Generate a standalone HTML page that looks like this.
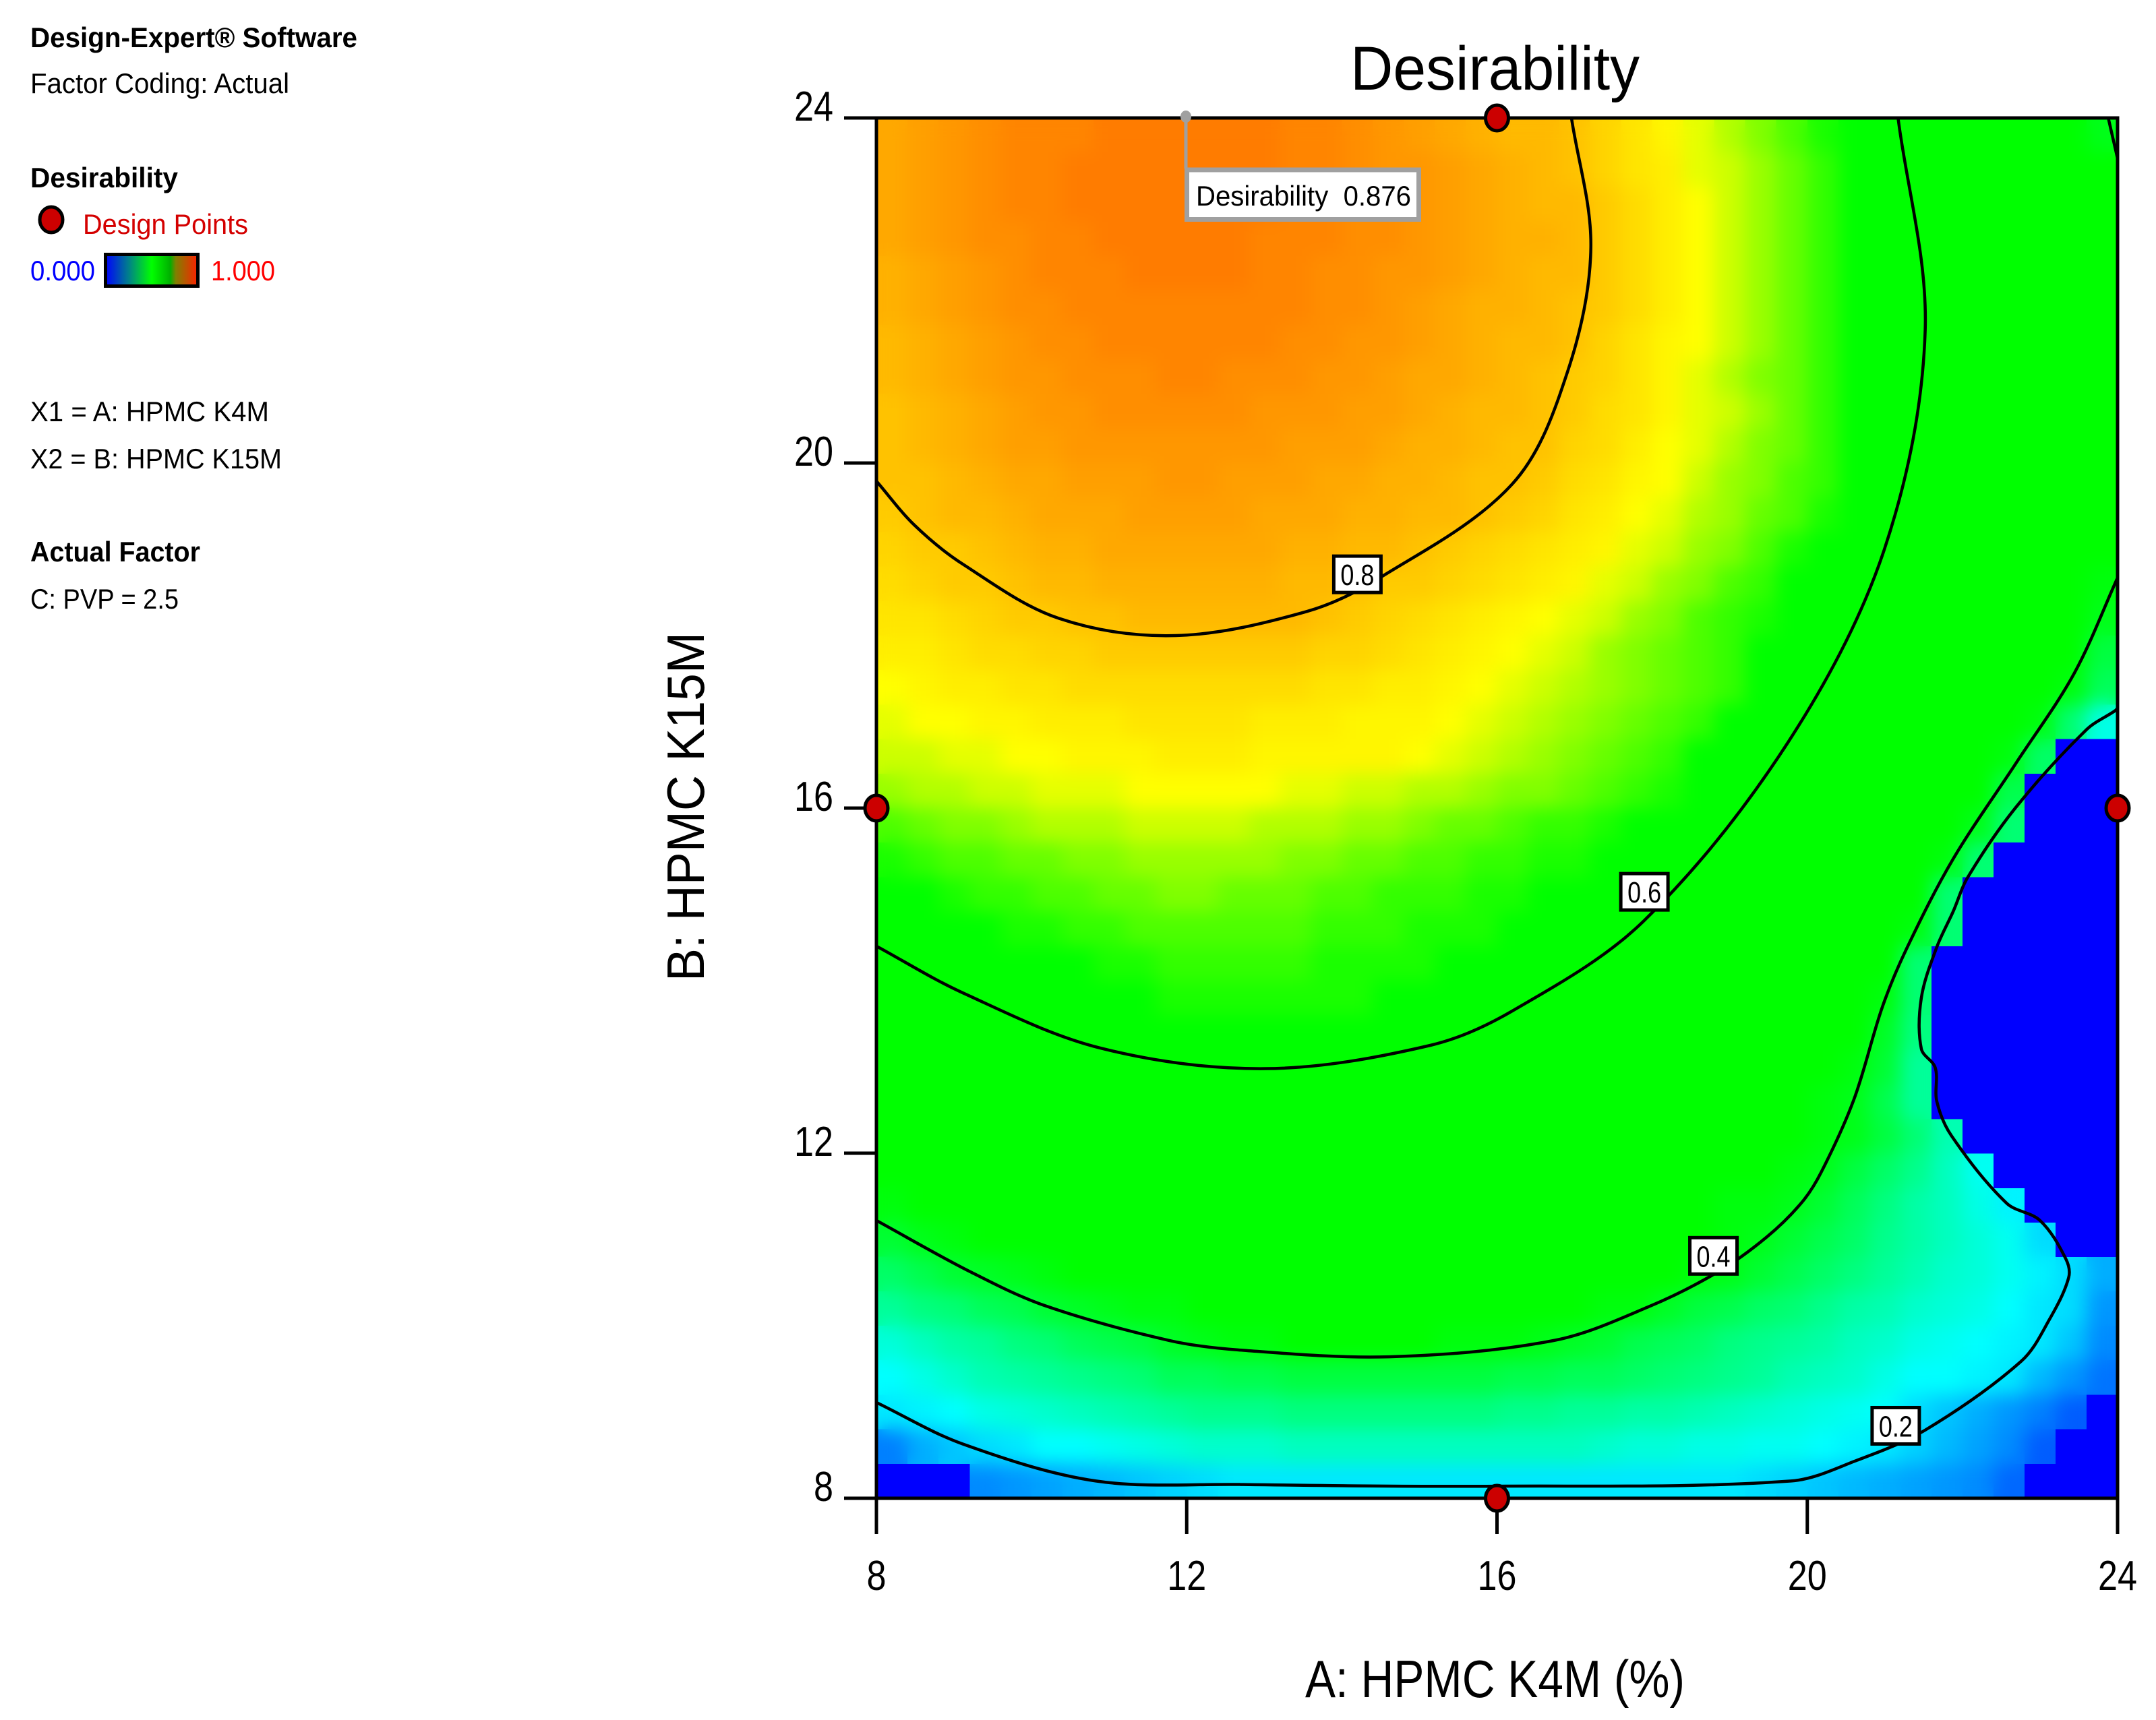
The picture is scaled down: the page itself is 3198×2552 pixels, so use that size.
<!DOCTYPE html>
<html lang="en">
<head>
<meta charset="utf-8">
<title>Desirability contour plot</title>
<style>
html,body{margin:0;padding:0;background:#fff;}
svg{display:block;}
text{font-family:"Liberation Sans",sans-serif;fill:#000;}
</style>
</head>
<body>
<svg id="chart" xmlns="http://www.w3.org/2000/svg" width="3198" height="2552" viewBox="0 0 3198 2552">
  <defs>
    <linearGradient id="legendGradient" x1="0" y1="0" x2="1" y2="0">
      <stop offset="0" stop-color="#0000ff"/>
      <stop offset="0.25" stop-color="#00808a"/>
      <stop offset="0.5" stop-color="#00ff00"/>
      <stop offset="0.7" stop-color="#00b000"/>
      <stop offset="0.76" stop-color="#808000"/>
      <stop offset="1" stop-color="#ff2000"/>
    </linearGradient>
    <clipPath id="plotClip"><rect x="1300" y="175" width="1841" height="2048"/></clipPath>
    <filter id="smooth" filterUnits="userSpaceOnUse" x="1200" y="100" width="2050" height="2250" color-interpolation-filters="sRGB">
      <feGaussianBlur stdDeviation="14"/>
    </filter>
  </defs>

  <g>
    <text x="45" y="70" font-size="42" font-weight="bold" textLength="485" lengthAdjust="spacingAndGlyphs">Design-Expert® Software</text>
    <text x="45" y="138" font-size="42" textLength="384" lengthAdjust="spacingAndGlyphs">Factor Coding: Actual</text>
    <text x="45" y="278" font-size="42" font-weight="bold" textLength="219" lengthAdjust="spacingAndGlyphs">Desirability</text>
    <ellipse cx="76" cy="326" rx="17" ry="19" fill="#cc0000" stroke="#000" stroke-width="5"/>
    <text x="123" y="347" font-size="42" style="fill:#d40000" textLength="245" lengthAdjust="spacingAndGlyphs">Design Points</text>
    <text x="45" y="416" font-size="42" style="fill:#0000ff" textLength="96" lengthAdjust="spacingAndGlyphs">0.000</text>
    <rect x="156.5" y="377.5" width="137" height="47" fill="url(#legendGradient)" stroke="#000" stroke-width="5"/>
    <text x="313" y="416" font-size="42" style="fill:#ff0000" textLength="95" lengthAdjust="spacingAndGlyphs">1.000</text>
    <text x="45" y="625" font-size="42" textLength="354" lengthAdjust="spacingAndGlyphs">X1 = A: HPMC K4M</text>
    <text x="45" y="695" font-size="42" textLength="373" lengthAdjust="spacingAndGlyphs">X2 = B: HPMC K15M</text>
    <text x="45" y="833" font-size="42" font-weight="bold" textLength="252" lengthAdjust="spacingAndGlyphs">Actual Factor</text>
    <text x="45" y="903" font-size="42" textLength="220" lengthAdjust="spacingAndGlyphs">C: PVP = 2.5</text>
  </g>

  <text x="2003" y="133" font-size="92" textLength="429" lengthAdjust="spacingAndGlyphs">Desirability</text>
  <text x="1936" y="2518" font-size="78" textLength="563" lengthAdjust="spacingAndGlyphs">A: HPMC K4M (%)</text>
  <text transform="translate(1044,1456) rotate(-90)" x="0" y="0" font-size="78" textLength="518" lengthAdjust="spacingAndGlyphs">B: HPMC K15M</text>

  <g id="cells" shape-rendering="crispEdges"></g>
  <g clip-path="url(#plotClip)">
    <use href="#cells" filter="url(#smooth)"/>
  </g>
  <g id="zeroCells" shape-rendering="crispEdges"></g>
  <g id="contours" clip-path="url(#plotClip)"></g>
  <g id="axes"></g>
  <g id="contourLabels"></g>
  <g id="points"></g>

  <g>
    <line x1="1759" y1="175" x2="1759" y2="250" stroke="#a0a0a0" stroke-width="5"/>
    <ellipse cx="1759" cy="173" rx="8" ry="9" fill="#a0a0a0"/>
    <rect x="1760.5" y="252" width="344" height="73.5" fill="#fff" stroke="#a0a0a0" stroke-width="7"/>
    <text x="1774" y="305" font-size="42" textLength="319" lengthAdjust="spacingAndGlyphs" xml:space="preserve">Desirability  0.876</text>
  </g>
</svg>

<script>
// Axis categories and tick labels
const xTickValues = [8, 12, 16, 20, 24];
const yTickValues = [8, 12, 16, 20, 24];

// Design points: factor A and factor B
const designA = [16, 8, 24, 16];
const designB = [24, 16, 16, 8];

// Desirability (percent), top row first, left to right
const desirabilityRows = [
[83,84,85,86,87,87,87,88,88,88,88,88,88,87,87,86,85,84,83,82,81,81,80,78,76,74,72,70,68,66,64,63,61,58,56,53,50,47,44,40],
[83,84,85,86,87,87,88,88,88,88,88,88,88,87,87,86,85,85,84,83,82,81,80,78,76,75,72,71,69,67,65,63,62,60,57,54,51,48,45,42],
[83,84,85,86,87,87,88,88,88,88,88,88,88,87,87,86,86,85,84,83,82,81,81,79,77,75,73,71,69,67,65,63,62,60,57,55,52,50,47,44],
[83,84,85,86,86,87,87,88,88,88,88,88,87,87,87,86,86,85,84,83,82,82,81,79,77,75,73,71,69,67,65,63,62,60,58,56,53,51,48,45],
[82,83,84,85,86,87,87,87,88,88,88,88,87,87,86,86,85,85,84,83,82,81,81,79,77,75,73,71,69,67,65,63,62,61,58,56,54,51,49,46],
[82,83,84,85,86,86,87,87,87,87,87,87,87,87,86,86,85,84,83,82,82,81,80,79,77,75,73,71,69,67,65,63,62,61,58,56,54,52,49,47],
[81,82,83,84,85,86,86,87,87,87,87,87,87,86,86,85,85,84,83,82,81,81,80,78,76,74,73,71,69,67,65,63,62,61,58,56,54,52,50,48],
[81,82,83,84,85,85,86,86,86,87,87,86,86,86,85,85,84,83,83,82,81,80,79,78,76,74,72,70,68,67,65,63,62,60,58,56,54,52,50,48],
[80,81,82,83,84,85,85,86,86,86,86,86,85,85,85,84,84,83,82,81,81,80,79,77,76,74,72,71,69,67,65,63,62,60,57,55,53,51,49,48],
[80,81,82,83,84,84,85,85,85,85,85,85,85,84,84,84,83,82,82,81,80,80,78,77,75,73,72,70,68,67,65,63,61,59,57,55,53,51,49,47],
[80,80,81,82,83,83,84,84,84,85,85,84,84,84,83,83,82,82,81,80,80,79,77,76,74,73,71,69,68,66,65,63,61,58,56,54,52,51,49,46],
[79,80,81,81,82,83,83,83,84,84,84,84,83,83,83,82,82,81,81,80,79,78,76,75,73,72,70,69,67,66,64,62,60,58,56,54,52,50,47,44],
[78,79,79,80,81,82,82,83,83,83,83,83,83,82,82,81,81,80,79,78,77,76,75,74,72,71,69,68,66,64,63,61,60,57,55,53,51,49,46,42],
[77,78,79,79,80,81,81,82,82,82,82,82,82,81,81,80,79,79,78,77,76,75,74,72,71,69,68,66,65,63,62,60,59,56,54,52,50,48,45,41],
[76,76,77,78,79,79,80,80,81,81,81,81,81,81,80,79,78,77,76,75,74,73,72,71,69,68,66,65,64,63,60,59,57,55,53,51,49,46,43,40],
[75,75,76,77,77,78,78,79,79,79,79,79,79,79,78,78,77,76,75,74,73,72,71,69,68,67,66,65,63,62,60,57,55,53,51,49,47,45,43,37],
[73,74,75,75,76,76,77,77,77,77,77,77,77,77,76,76,75,75,74,73,72,71,70,69,68,67,66,65,63,60,58,56,54,52,50,48,46,44,41,35],
[72,73,73,74,74,75,75,75,76,76,76,76,75,75,75,74,74,74,73,72,71,70,69,68,67,66,65,63,61,59,56,54,52,50,48,46,44,41,33,24],
[71,71,72,72,73,73,74,74,74,75,75,75,74,74,74,74,74,73,72,71,70,69,68,67,66,65,63,62,60,59,57,55,53,51,49,47,41,34,0,0],
[69,70,70,71,71,72,72,72,73,73,73,73,73,72,72,71,71,70,70,69,68,68,67,66,65,64,62,60,58,56,54,52,51,49,46,43,36,0,0,0],
[66,67,68,68,69,70,70,70,71,71,71,71,70,70,70,69,69,68,67,67,66,65,65,64,63,62,61,60,57,54,53,51,49,47,44,40,33,0,0,0],
[64,65,66,66,67,67,68,68,69,69,69,69,69,68,68,67,67,66,66,65,65,64,64,63,61,60,58,56,54,52,51,49,47,45,41,33,0,0,0,0],
[62,63,64,65,65,66,66,67,67,68,68,67,67,67,66,66,65,65,65,64,64,63,63,60,59,57,55,53,52,50,49,47,45,43,33,0,0,0,0,0],
[60,61,62,63,64,64,65,65,66,66,66,66,66,66,65,65,65,64,64,64,63,62,61,60,60,58,56,54,52,50,49,47,45,41,33,0,0,0,0,0],
[60,60,61,61,62,62,63,64,64,65,65,65,65,65,64,64,64,64,63,63,62,61,60,59,58,56,54,52,51,49,47,45,42,33,0,0,0,0,0,0],
[58,58,59,59,60,60,61,62,63,64,64,64,64,64,64,64,63,62,61,60,60,59,58,57,56,54,52,51,49,47,46,44,41,33,0,0,0,0,0,0],
[55,56,57,57,58,59,59,60,60,60,61,61,61,61,61,60,60,60,60,59,58,57,56,55,54,52,50,49,47,46,44,42,39,32,0,0,0,0,0,0],
[53,54,54,55,56,56,57,57,58,59,60,60,60,60,60,59,58,58,57,56,55,54,53,52,51,50,48,47,45,44,43,41,38,30,0,0,0,0,0,0],
[51,52,52,53,53,54,55,55,56,56,57,57,58,58,57,57,56,55,55,54,53,52,51,50,49,48,46,45,44,43,41,40,36,30,0,0,0,0,0,0],
[48,49,50,51,51,52,52,53,53,54,54,55,55,55,55,54,54,53,52,51,50,50,49,48,47,46,45,44,43,42,41,40,37,33,28,0,0,0,0,0],
[47,47,48,48,49,49,50,50,51,51,52,52,52,52,52,51,51,50,50,49,48,48,47,46,45,44,43,43,42,41,40,37,34,31,27,23,0,0,0,0],
[41,42,43,44,45,46,47,48,48,49,49,49,49,49,49,49,48,48,47,46,46,45,44,44,43,43,42,41,41,40,38,35,32,29,27,24,21,0,0,0],
[38,40,41,42,42,43,44,44,45,45,46,46,46,47,46,46,46,45,45,44,44,43,43,43,42,42,42,41,40,38,36,34,31,29,27,25,23,19,0,0],
[34,36,38,39,40,41,42,42,43,43,43,43,44,44,44,44,43,43,42,42,42,42,42,42,42,42,41,40,38,36,34,32,30,28,26,25,23,21,19,15],
[30,32,33,35,36,38,39,40,41,41,42,42,43,43,43,43,43,43,43,43,43,42,42,41,41,39,37,36,34,33,31,29,28,26,25,24,22,20,19,13],
[25,27,29,30,32,33,35,36,37,39,40,41,41,42,42,42,42,42,41,41,41,40,39,38,36,35,34,32,31,30,29,27,26,24,23,22,21,20,17,12],
[22,24,26,28,29,30,31,32,33,35,35,36,36,37,37,37,37,37,37,37,36,36,35,35,34,33,32,31,30,28,27,26,24,22,22,21,20,16,13,10],
[20,21,22,24,25,26,27,28,29,30,31,31,31,32,32,32,32,32,32,32,31,31,30,30,29,29,28,27,26,25,24,23,22,19,17,15,13,11,8,0],
[11,15,17,19,20,22,22,23,24,25,26,26,26,27,27,27,27,27,27,27,27,27,27,26,25,25,24,24,23,23,22,21,20,18,16,14,12,8,0,0],
[0,0,0,12,13,14,15,16,17,18,19,20,20,20,20,20,20,20,20,20,20,20,20,20,20,20,20,20,19,18,17,16,15,14,13,12,9,0,0,0]
];

// Contours: A values and B values per level
const contour08A = [8.00,8.49,9.11,10.35,11.86,13.55,14.49,16.20,16.91,17.21,16.96];
const contour08B = [19.79,19.28,18.83,18.20,18.00,18.28,18.67,19.76,21.06,22.50,24.00];
const contour06A = [8.00,9.11,10.88,13.01,15.14,16.20,17.89,19.75,20.99,21.52,21.17];
const contour06B = [14.40,13.86,13.22,12.98,13.25,13.65,14.69,16.76,18.99,21.54,24.00];
const contour04A = [8.00,9.20,10.18,11.77,12.66,14.61,16.74,17.98,18.86,19.48,19.93,20.18,20.60,20.97,21.28,21.88,22.69,23.44,24.00];
const contour04B = [11.22,10.63,10.23,9.83,9.72,9.64,9.83,10.23,10.63,11.03,11.43,11.78,12.62,13.70,14.37,15.41,16.52,17.56,18.67];
const contour04cornerA = [23.88,24.00];
const contour04cornerB = [24.00,23.53];
const contour02A = [8.00,9.11,10.83,12.66,15.99,19.79,20.64,21.52,22.76,23.12,23.37,23.33,23.00,22.57,21.86,21.67,21.65,21.47,21.47,21.67,21.88,22.07,22.69,23.60,23.97,24.00];
const contour02B = [9.11,8.63,8.20,8.16,8.14,8.20,8.44,8.79,9.59,10.07,10.56,10.78,11.22,11.42,12.20,12.60,12.99,13.21,13.80,14.39,14.80,15.20,16.01,16.91,17.13,17.16];

// Contour labels: text and the data location of each label
const labelTexts = ["0.8", "0.6", "0.4", "0.2"];
const labelA = [14.20, 17.90, 18.79, 21.14];
const labelB = [18.71, 15.03, 10.81, 8.84];

// Axis functions
const xScale = a => 1300 + (a - 8) * 1841 / 16;
const yScale = b => 175 + (24 - b) * 2048 / 16;

const SVGNS = "http://www.w3.org/2000/svg";
function make(tag, attrs, parent) {
  const el = document.createElementNS(SVGNS, tag);
  for (const k in attrs) el.setAttribute(k, attrs[k]);
  parent.appendChild(el);
  return el;
}

function colorFor(pct) {
  const v = pct / 100;
  const stops = [
    [0, 0, 0, 255], [0.22, 0, 255, 255], [0.42, 0, 255, 0], [0.63, 0, 255, 0],
    [0.73, 255, 255, 0], [0.876, 255, 128, 0], [1, 255, 0, 0]
  ];
  for (let i = 1; i < stops.length; i++) {
    if (v <= stops[i][0]) {
      const a = stops[i - 1], b = stops[i];
      const t = (v - a[0]) / (b[0] - a[0]);
      return "rgb(" + [1, 2, 3].map(c => Math.round(a[c] + (b[c] - a[c]) * t)).join(",") + ")";
    }
  }
  return "rgb(255,0,0)";
}

// Heatmap cells: non-zero cells are smoothed, zero cells stay crisp on top
const cellsGroup = document.getElementById("cells");
const zeroGroup = document.getElementById("zeroCells");
const nRows = desirabilityRows.length;
desirabilityRows.forEach((row, r) => {
  const nCols = row.length;
  row.forEach((val, c) => {
    const a0 = 8 + c * 16 / nCols, a1 = 8 + (c + 1) * 16 / nCols;
    const b0 = 24 - r * 16 / nRows, b1 = 24 - (r + 1) * 16 / nRows;
    const cell = make("rect", {
      x: xScale(a0), y: yScale(b0),
      width: xScale(a1) - xScale(a0) + 0.6,
      height: yScale(b1) - yScale(b0) + 0.6,
      fill: colorFor(val)
    }, val > 0 ? cellsGroup : zeroGroup);
    
    
  });
});

// Contour lines
function smoothPath(xs, ys) {
  const pts = xs.map((a, i) => [xScale(a), yScale(ys[i])]);
  const unit = (p, q) => {
    const dx = q[0] - p[0], dy = q[1] - p[1], n = Math.hypot(dx, dy) || 1;
    return [dx / n, dy / n];
  };
  let d = "M" + pts[0][0] + " " + pts[0][1];
  for (let i = 0; i < pts.length - 1; i++) {
    const p0 = pts[Math.max(i - 1, 0)], p1 = pts[i], p2 = pts[i + 1], p3 = pts[Math.min(i + 2, pts.length - 1)];
    const len = Math.hypot(p2[0] - p1[0], p2[1] - p1[1]) / 3;
    const t1 = unit(p0, p2), t2 = unit(p1, p3);
    d += " C" + (p1[0] + t1[0] * len) + " " + (p1[1] + t1[1] * len) + " " +
         (p2[0] - t2[0] * len) + " " + (p2[1] - t2[1] * len) + " " + p2[0] + " " + p2[1];
  }
  return d;
}
const contourGroup = document.getElementById("contours");
[[contour08A, contour08B], [contour06A, contour06B], [contour04A, contour04B],
 [contour04cornerA, contour04cornerB], [contour02A, contour02B]].forEach(pair => {
  const line = make("path", { d: smoothPath(pair[0], pair[1]), fill: "none", stroke: "#000", "stroke-width": 4.5 }, contourGroup);
  
  
});

// Axes
const axesGroup = document.getElementById("axes");
const frame = make("rect", {
  x: xScale(8), y: yScale(24), width: xScale(24) - xScale(8), height: yScale(8) - yScale(24),
  fill: "none", stroke: "#000", "stroke-width": 5
}, axesGroup);



xTickValues.forEach(v => {
  const x = xScale(v);
  const tick = make("line", { x1: x, y1: yScale(8), x2: x, y2: yScale(8) + 53, stroke: "#000", "stroke-width": 5 }, axesGroup);
  
  
  const label = make("text", {
    x: x, y: yScale(8) + 136, "font-size": 62, "text-anchor": "middle",
    textLength: 29 * String(v).length, lengthAdjust: "spacingAndGlyphs"
  }, axesGroup);
  label.textContent = v;
  
  
});
yTickValues.forEach(v => {
  const y = yScale(v);
  const tick = make("line", { x1: xScale(8) - 48, y1: y, x2: xScale(8), y2: y, stroke: "#000", "stroke-width": 5 }, axesGroup);
  
  
  const label = make("text", {
    x: xScale(8) - 64, y: y + 4, "font-size": 62, "text-anchor": "end",
    textLength: 29 * String(v).length, lengthAdjust: "spacingAndGlyphs"
  }, axesGroup);
  label.textContent = v;
  
  
});

// Contour labels
const labelGroup = document.getElementById("contourLabels");
labelTexts.forEach((txt, i) => {
  const cx = xScale(labelA[i]), cy = yScale(labelB[i]);
  const box = make("rect", { x: cx - 35, y: cy - 27, width: 70, height: 54, fill: "#fff", stroke: "#000", "stroke-width": 5 }, labelGroup);
  
  
  const t = make("text", {
    x: cx, y: cy + 16, "font-size": 44, "text-anchor": "middle",
    textLength: 50, lengthAdjust: "spacingAndGlyphs"
  }, labelGroup);
  t.textContent = txt;
  
  
});

// Design points
const pointsGroup = document.getElementById("points");
designA.forEach((a, i) => {
  const pt = make("ellipse", {
    cx: xScale(a), cy: yScale(designB[i]), rx: 17, ry: 19,
    fill: "#cc0000", stroke: "#000", "stroke-width": 5
  }, pointsGroup);
  
  
});
</script>
</body>
</html>
